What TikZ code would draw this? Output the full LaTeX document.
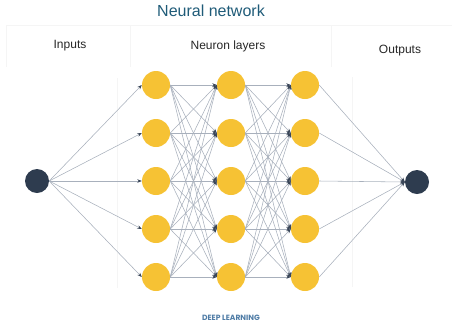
\documentclass[tikz,border=0pt]{standalone}
\usepackage{fontspec}
\setmainfont{Liberation Sans}
\newfontfamily\tagfont{Poppins}
\usetikzlibrary{arrows.meta}
\definecolor{neurongold}{HTML}{F6C234}
\definecolor{ionode}{HTML}{2E3C4F}
\definecolor{wire}{HTML}{A8B0BC}
\definecolor{tipcol}{HTML}{3A4658}
\definecolor{titleblue}{HTML}{1F5B78}
\definecolor{tagblue}{HTML}{4F7CA6}
\definecolor{faint}{HTML}{F5F5F5}
\tikzset{
  neuron/.style={circle, fill=neurongold, minimum size=28pt, inner sep=0pt},
  ionode/.style={circle, fill=ionode, minimum size=24pt, inner sep=0pt},
  link/.style={draw=wire, line width=0.55pt,
    -{Stealth[length=4.5pt,width=3.5pt,color=tipcol]}},
  panel/.style={draw=faint, line width=0.5pt},
  heading/.style={font=\fontsize{12}{14}\selectfont, text=black!85},
}
\begin{document}
\begin{tikzpicture}[x=1pt,y=-1pt]
\useasboundingbox (0,0) rectangle (452,330);

% faint panel outlines behind the labels
\draw[panel] (6,67) -- (6,25) -- (130,25) -- (130,67);
\draw[panel] (130,25) -- (331,25);
\draw[panel] (331,67) -- (331,25) -- (452,25);
\draw[panel] (117,78) -- (117,288);
\draw[panel] (352,77) -- (352,287);

% titles
\node (title) at (211,11) {\fontsize{16}{18}\selectfont\color{titleblue}Neural network};
\node[heading] (lin) at (70,46) {Inputs};
\node[heading] (lhid) at (228,46) {Neuron layers};
\node[heading] (lout) at (400,51) {Outputs};
\node (tag) at (231,318) {\tagfont\bfseries\fontsize{7.6}{9}\selectfont\color{tagblue}DEEP LEARNING};

% nodes
\node[ionode] (in) at (37,181) {};
\node[ionode] (out) at (417,182) {};
\foreach \l/\x in {1/156,2/231,3/305}{
  \foreach \r/\y in {1/85,2/133,3/181,4/229,5/277}{
    \node[neuron] (h\l\r) at (\x,\y) {};
  }
}

% connections
\foreach \r in {1,...,5}{
  \draw[link] (in.east) -- (h1\r.west);
  \draw[link] (h3\r.east) -- (out.west);
}
\foreach \a in {1,...,5}{
  \foreach \b in {1,...,5}{
    \draw[link] (h1\a.east) -- (h2\b.west);
    \draw[link] (h2\a.east) -- (h3\b.west);
  }
}
\end{tikzpicture}
\end{document}
